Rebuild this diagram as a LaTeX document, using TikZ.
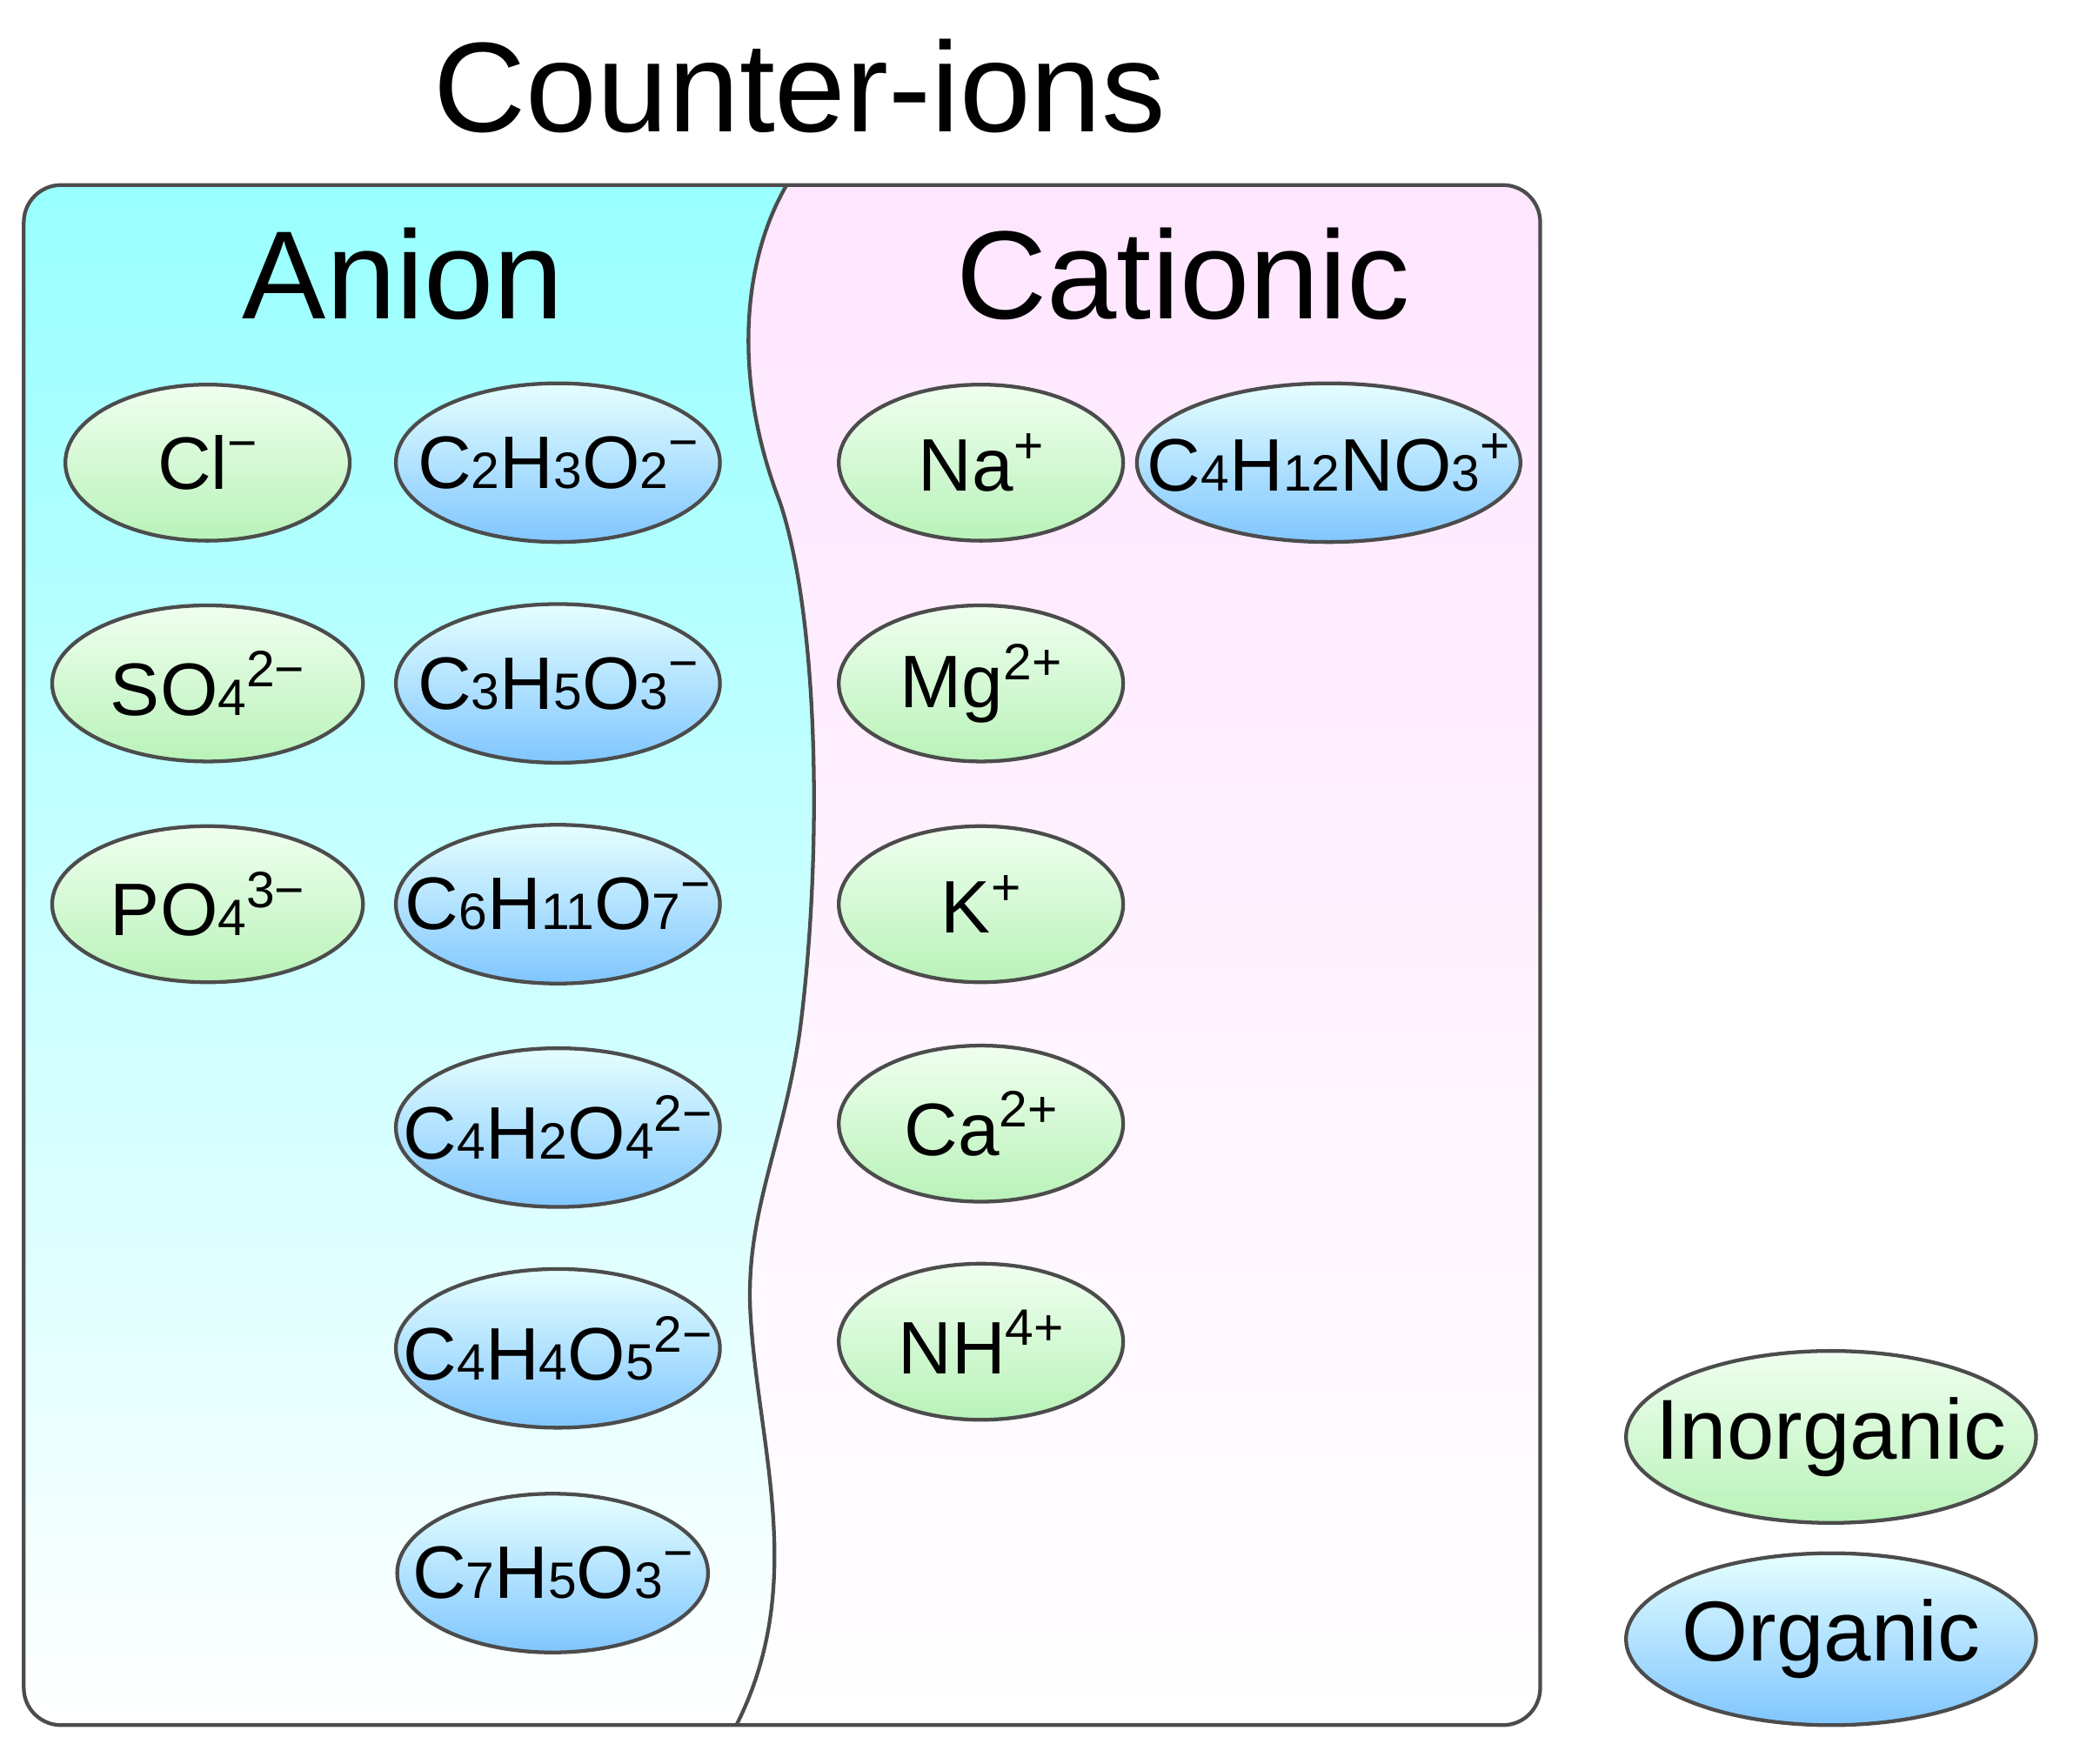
\documentclass[tikz,border=0pt]{standalone}
\usepackage{fontspec}
\setmainfont{Liberation Sans}
\usetikzlibrary{shapes.geometric}
\newcommand{\lo}[1]{{\fontsize{11}{11}\selectfont #1}}
\newcommand{\hi}[1]{\raisebox{0.38em}{\fontsize{11}{11}\selectfont #1}}
\begin{document}
\begin{tikzpicture}[x=0.01cm,y=-0.01cm,
 base/.style={ellipse,draw=black!70,line width=0.8pt,minimum height=1.18cm,inner sep=-20pt,font=\fontsize{16}{18}\selectfont},
 inorg/.style={base,top color=green!6!white,bottom color=green!25!white!90!gray},
 org/.style={base,top color=cyan!10!white,bottom color=blue!45!cyan!50!white,minimum height=1.2cm},
 hdr/.style={font=\fontsize{27}{30}\selectfont}]
\useasboundingbox (0,0) rectangle (1568,1334);
\def\wave{(595,140) .. controls (560,200) and (555,290) .. (590,380) .. controls (620,470) and (622,650) .. (605,780) .. controls (592,870) and (562,920) .. (568,1000) .. controls (575,1100) and (610,1200) .. (557,1305)}
\begin{scope}
\clip[rounded corners=8pt] (18,140) rectangle (1165,1305);
\shade[top color=cyan!40!white,bottom color=white] (0,140) -- \wave -- (0,1305) -- cycle;
\shade[top color=magenta!10!white,bottom color=white] (1200,140) -- \wave -- (1200,1305) -- cycle;
\end{scope}
\draw[black!70,line width=0.8pt] \wave;
\draw[black!70,line width=0.8pt,rounded corners=8pt] (18,140) rectangle (1165,1305);
\node[font=\fontsize{27.5}{32}\selectfont] (title) at (605,65) {Counter-ions};
\node[hdr] (an) at (305,207) {Anion};
\node[hdr] (ca) at (895,207) {Cationic};
\node[inorg,minimum width=2.15cm] (cl) at (157,350) {Cl\hi{−}};
\node[inorg,minimum width=2.35cm] (so) at (157,517) {SO\lo{4}\hi{2−}};
\node[inorg,minimum width=2.35cm] (po) at (157,684) {PO\lo{4}\hi{3−}};
\node[org,minimum width=2.45cm] (o1) at (422,350) {C\lo{2}H\lo{3}O\lo{2}\hi{−}};
\node[org,minimum width=2.45cm] (o2) at (422,517) {C\lo{3}H\lo{5}O\lo{3}\hi{−}};
\node[org,minimum width=2.45cm] (o3) at (422,684) {C\lo{6}H\lo{11}O\lo{7}\hi{−}};
\node[org,minimum width=2.45cm] (o4) at (422,853) {C\lo{4}H\lo{2}O\lo{4}\hi{2−}};
\node[org,minimum width=2.45cm] (o5) at (422,1020) {C\lo{4}H\lo{4}O\lo{5}\hi{2−}};
\node[org,minimum width=2.35cm] (o6) at (418,1190) {C\lo{7}H\lo{5}O\lo{3}\hi{−}};
\node[inorg,minimum width=2.15cm] (na) at (742,350) {Na\hi{+}};
\node[org,minimum width=2.9cm] (tr) at (1005,350) {C\lo{4}H\lo{12}NO\lo{3}\hi{+}};
\node[inorg,minimum width=2.15cm] (mg) at (742,517) {Mg\hi{2+}};
\node[inorg,minimum width=2.15cm] (k) at (742,684) {K\hi{+}};
\node[inorg,minimum width=2.15cm] (cac) at (742,850) {Ca\hi{2+}};
\node[inorg,minimum width=2.15cm] (nh) at (742,1015) {NH\hi{4+}};
\node[inorg,minimum width=3.1cm,minimum height=1.3cm,font=\fontsize{18.3}{22}\selectfont] (li) at (1385,1087) {Inorganic};
\node[org,minimum width=3.1cm,minimum height=1.3cm,font=\fontsize{18.3}{22}\selectfont] (lg) at (1385,1240) {Organic};
\end{tikzpicture}
\end{document}
